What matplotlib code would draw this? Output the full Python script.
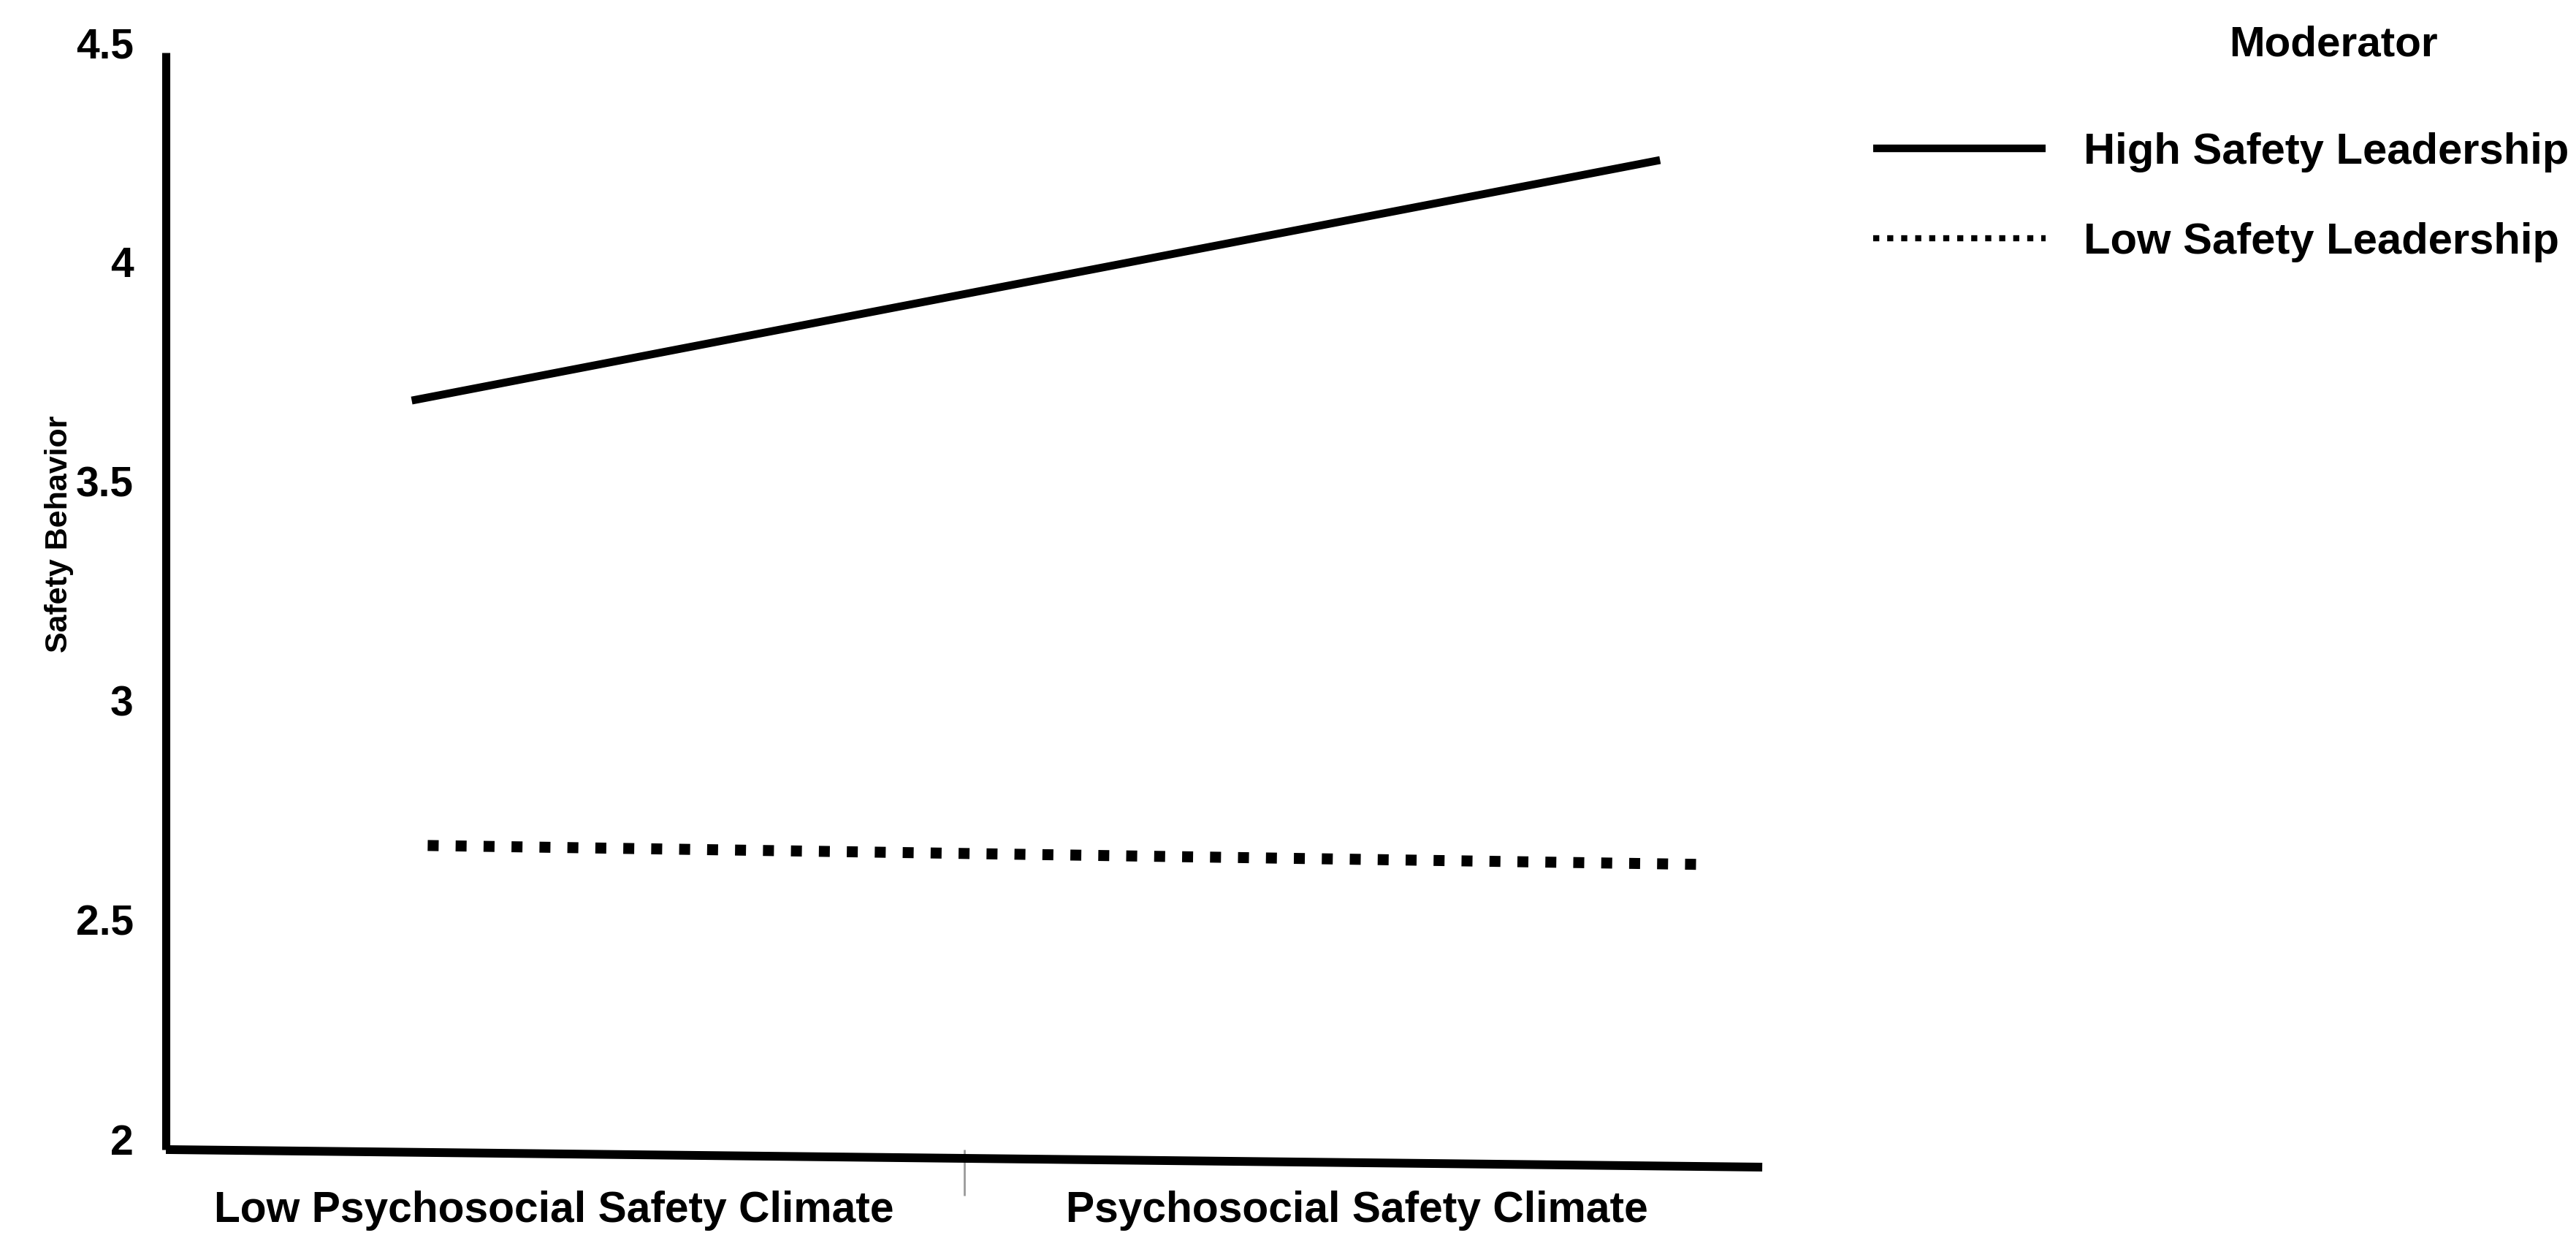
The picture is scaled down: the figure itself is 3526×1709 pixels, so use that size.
import matplotlib
matplotlib.use("Agg")
import matplotlib.pyplot as plt
import matplotlib.transforms as mtransforms
from matplotlib.lines import Line2D

# ---------------- data ----------------
conditions = ["Low Psychosocial Safety Climate", "Psychosocial Safety Climate"]
series_names = ["High Safety Leadership", "Low Safety Leadership"]
high_x = [0.154, 0.936]
high_y = [3.707, 4.255]
low_x = [0.164, 0.959]
low_y = [2.693, 2.650]
y_ticks = [2, 2.5, 3, 3.5, 4, 4.5]
y_tick_labels = ["2", "2.5", "3", "3.5", "4", "4.5"]
y_label = "Safety Behavior"
legend_title = "Moderator"

# ---------------- style ----------------
FONT = ["Liberation Sans", "DejaVu Sans"]
plt.rcParams["font.family"] = FONT
plt.rcParams["font.weight"] = "bold"

fig = plt.figure(figsize=(35.26, 17.09), dpi=100)
fig.patch.set_facecolor("white")
ax = fig.add_axes([0.0644, 0.0796, 0.6197, 0.8783])

ax.plot(high_x, high_y, color="black", lw=7.8, solid_capstyle="butt")
ax.plot(low_x, low_y, color="black", lw=10.8, linestyle=(0, (1.0, 1.55)),
        dash_capstyle="butt")

ax.set_xlim(0, 1)
ax.set_ylim(2, 4.5)

# spines
for s in ["top", "right", "bottom"]:
    ax.spines[s].set_visible(False)
ax.spines["left"].set_linewidth(8)
ax.spines["left"].set_capstyle("butt")
# slightly slanted baseline as in the reference
ax.add_line(Line2D([0, 1], [0, -0.016], transform=ax.transAxes, color="black",
                   lw=8.6, solid_capstyle="butt", clip_on=False))

# y ticks
ax.set_yticks(y_ticks)
ax.set_yticklabels(y_tick_labels)
ax.tick_params(axis="y", length=0, pad=32, labelsize=41)
off = mtransforms.ScaledTranslation(0, 10 / 72, fig.dpi_scale_trans)
for lab in ax.get_yticklabels():
    lab.set_transform(lab.get_transform() + off)
    lab.set_fontweight("bold")

# x ticks: one grey divider tick, category labels as minor ticks
ax.set_xticks([0.5])
ax.set_xticklabels([""])
ax.tick_params(axis="x", which="major", length=45, width=2, color="#9a9a9a")
ax.set_xticks([0.243, 0.746], minor=True)
ax.set_xticklabels(conditions, minor=True)
ax.tick_params(axis="x", which="minor", length=0, pad=40, labelsize=42.3)
for lab in ax.get_xticklabels(minor=True):
    lab.set_fontweight("bold")

ylab = ax.set_ylabel(y_label, fontsize=31, fontweight="bold")
ylab.set_verticalalignment("center")
ax.yaxis.set_label_coords(-0.067, 0.561)

# legend
handles = [
    Line2D([], [], color="black", lw=7.5, solid_capstyle="butt"),
    Line2D([], [], color="black", lw=6, linestyle=(0, (1.0, 1.3)), dash_capstyle="butt"),
]
leg = fig.legend(handles, series_names, loc="center left",
                 bbox_to_anchor=(0.7272, 0.842), frameon=False,
                 handlelength=3.95, handletextpad=0.87, labelspacing=1.15,
                 borderpad=0, borderaxespad=0,
                 prop={"family": FONT, "weight": "bold", "size": 43})
fig.text(0.9059, 0.9643, legend_title, ha="center", va="center",
         fontsize=42, fontweight="bold")

fig.savefig("out.png", dpi=100, facecolor="white")
